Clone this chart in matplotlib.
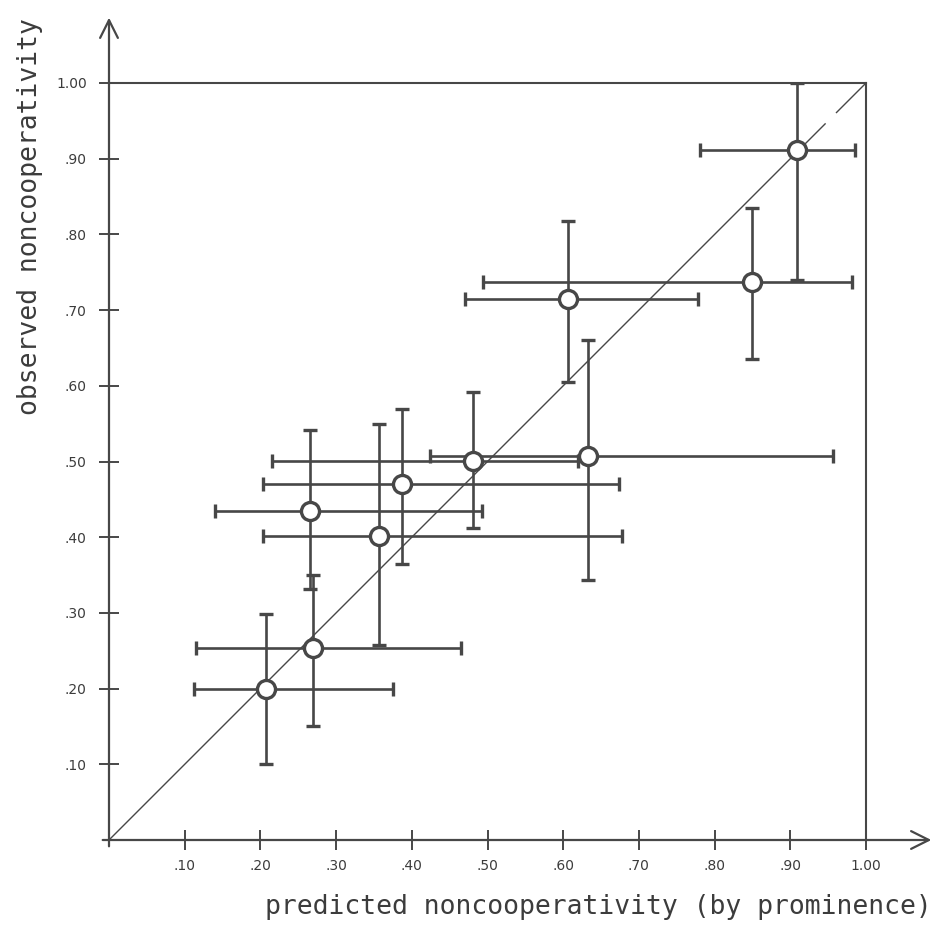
import matplotlib
matplotlib.use("Agg")
import matplotlib.pyplot as plt

# predicted vs observed noncooperativity, with ranges
pred = [0.207, 0.269, 0.265, 0.357, 0.387, 0.481, 0.633, 0.606, 0.850, 0.909]
obs = [0.200, 0.253, 0.434, 0.402, 0.470, 0.501, 0.507, 0.715, 0.737, 0.911]
pred_lo = [0.112, 0.115, 0.140, 0.204, 0.204, 0.215, 0.424, 0.470, 0.494, 0.781]
pred_hi = [0.375, 0.465, 0.493, 0.678, 0.674, 0.620, 0.957, 0.778, 0.982, 0.985]
obs_lo = [0.100, 0.151, 0.331, 0.258, 0.364, 0.412, 0.343, 0.605, 0.635, 0.740]
obs_hi = [0.299, 0.350, 0.541, 0.550, 0.569, 0.592, 0.661, 0.818, 0.835, 1.000]

ticks = [0.1, 0.2, 0.3, 0.4, 0.5, 0.6, 0.7, 0.8, 0.9, 1.0]
tick_labels = [".10", ".20", ".30", ".40", ".50", ".60", ".70", ".80", ".90", "1.00"]

# diagonal y = x, solid then broken near the top
diag_segments = [(0.0, 0.946), (0.961, 1.0)]

ink = "#474747"

fig = plt.figure(figsize=(9.38, 9.27), dpi=100)
ax = fig.add_axes([109 / 938, 87 / 927, 757 / 938, 757 / 927])
ax.set_xlim(0, 1)
ax.set_ylim(0, 1)

for a, b in diag_segments:
    ax.plot([a, b], [a, b], color=ink, lw=1.0, zorder=2)

xerr = [[p - lo for p, lo in zip(pred, pred_lo)], [hi - p for p, hi in zip(pred, pred_hi)]]
yerr = [[o - lo for o, lo in zip(obs, obs_lo)], [hi - o for o, hi in zip(obs, obs_hi)]]
ax.errorbar(pred, obs, xerr=xerr, yerr=yerr, fmt="o", ms=13, mfc="white",
            mec=ink, mew=2.4, ecolor=ink, elinewidth=1.9, capsize=5,
            capthick=2.0, zorder=3)

# frame: top and right drawn as plain lines, left/bottom as arrows
for s in ["top", "right"]:
    ax.spines[s].set_color(ink)
    ax.spines[s].set_linewidth(1.5)
for s in ["left", "bottom"]:
    ax.spines[s].set_visible(False)

arrow = dict(arrowstyle="->", lw=1.6, color=ink, mutation_scale=32)
ax.annotate("", xy=(0, 1.09), xytext=(0, -0.012), xycoords="axes fraction",
            textcoords="axes fraction", arrowprops=arrow, annotation_clip=False)
ax.annotate("", xy=(1.09, 0), xytext=(-0.012, 0), xycoords="axes fraction",
            textcoords="axes fraction", arrowprops=arrow, annotation_clip=False)

ax.set_xticks(ticks)
ax.set_xticklabels(tick_labels)
ax.set_yticks(ticks)
ax.set_yticklabels(tick_labels)
ax.tick_params(direction="inout", length=14, width=1.4, color=ink,
               labelcolor="#3c3c3c", labelsize=10)
ax.tick_params(axis="x", pad=7)
ax.tick_params(axis="y", pad=9)

ax.set_xlabel("predicted noncooperativity (by prominence)", family="DejaVu Sans Mono",
              fontsize=19, color="#3c3c3c", va="center")
ax.xaxis.set_label_coords(0.646, -0.088)
ax.set_ylabel("observed noncooperativity", family="DejaVu Sans Mono",
              fontsize=19, color="#3c3c3c", va="center")
ax.yaxis.set_label_coords(-0.104, 0.824)

fig.savefig("out.png", dpi=100)
